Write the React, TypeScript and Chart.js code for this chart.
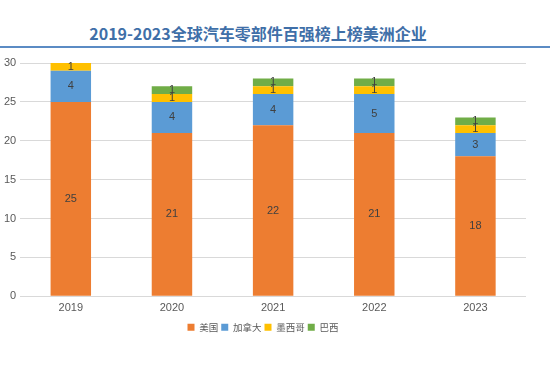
import React, { useEffect, useRef } from "react";
import { Chart, registerables } from "chart.js";

Chart.register(...registerables);

const TITLE = "2019-2023全球汽车零部件百强榜上榜美洲企业";
const years = ["2019", "2020", "2021", "2022", "2023"];
const usa = [25, 21, 22, 21, 18];
const canada = [4, 4, 4, 5, 3];
const mexico = [1, 1, 1, 1, 1];
const brazil = [0, 1, 1, 1, 1];
const yTicks = [0, 5, 10, 15, 20, 25, 30];

const labelPlugin = {
  id: "segLabels",
  afterDatasetsDraw(chart: any) {
    const ctx = chart.ctx;
    ctx.save();
    ctx.font = "11px 'Liberation Sans', Arial, sans-serif";
    ctx.fillStyle = "#404040";
    ctx.textAlign = "center";
    ctx.textBaseline = "middle";
    chart.data.datasets.forEach((ds: any, i: number) => {
      const meta = chart.getDatasetMeta(i);
      meta.data.forEach((el: any, j: number) => {
        const v = ds.data[j];
        if (!v) return;
        const y = (el.y + el.base) / 2;
        ctx.fillText(String(v), el.x, y);
      });
    });
    ctx.restore();
  },
};

export default function App() {
  const ref = useRef<HTMLCanvasElement>(null);
  useEffect(() => {
    if (!ref.current) return;
    const chart = new Chart(ref.current, {
      type: "bar",
      data: {
        labels: years,
        datasets: [
          { label: "美国", data: usa, backgroundColor: "#ED7D31" },
          { label: "加拿大", data: canada, backgroundColor: "#5B9BD5" },
          { label: "墨西哥", data: mexico, backgroundColor: "#FFC000" },
          { label: "巴西", data: brazil, backgroundColor: "#70AD47" },
        ],
      },
      options: {
        animation: false,
        responsive: false,
        maintainAspectRatio: false,
        layout: { padding: { top: 15, right: 24, left: 0, bottom: 36 } },
        datasets: { bar: { barPercentage: 0.4, categoryPercentage: 1 } },
        scales: {
          x: {
            stacked: true,
            grid: { display: false, drawTicks: false },
            border: { display: false },
            ticks: {
              color: "#595959",
              font: { size: 11, family: "'Liberation Sans', Arial, sans-serif" },
              padding: 5,
            },
          },
          y: {
            stacked: true,
            min: 0,
            max: 30,
            afterBuildTicks: (axis: any) => {
              axis.ticks = yTicks.map((v) => ({ value: v }));
            },
            grid: { color: "#d9d9d9", drawTicks: false },
            border: { display: false },
            ticks: {
              color: "#595959",
              font: { size: 11, family: "'Liberation Sans', Arial, sans-serif" },
              padding: 4,
            },
          },
        },
        plugins: {
          legend: {
            position: "bottom",
            labels: {
              usePointStyle: true,
              pointStyle: "rect",
              boxWidth: 7,
              boxHeight: 7,
              padding: 3,
              color: "#595959",
              font: { size: 9.5, family: "'Noto Sans CJK SC', sans-serif" },
            },
          },
          tooltip: { enabled: false },
        },
      },
      plugins: [labelPlugin],
    });
    return () => chart.destroy();
  }, []);

  return (
    <div
      style={{
        position: "fixed",
        left: 0,
        top: 0,
        width: 550,
        height: 378,
        background: "#fff",
      }}
    >
      <div
        style={{
          position: "absolute",
          left: 0,
          top: 0,
          width: 550,
          height: 48,
          borderBottom: "2px solid #5b8bc4",
          boxSizing: "border-box",
        }}
      >
        <div
          style={{
            position: "absolute",
            left: 0,
            width: 516,
            top: 21,
            textAlign: "center",
            fontFamily: "'Noto Sans CJK SC', sans-serif",
            fontWeight: 700,
            fontSize: 16,
            lineHeight: "24px",
            color: "#3f6fa8",
          }}
        >
          {TITLE}
        </div>
      </div>
      <div style={{ position: "absolute", left: 0, top: 48, width: 550, height: 330 }}>
        <canvas ref={ref} width={550} height={330} style={{ display: "block" }} />
      </div>
    </div>
  );
}
